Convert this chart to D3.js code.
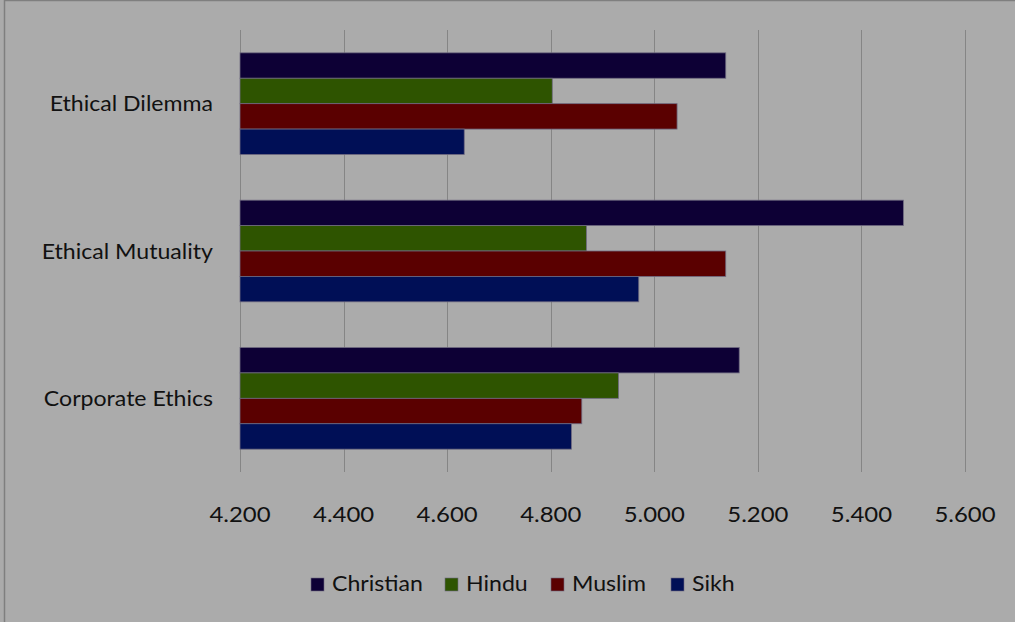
<!DOCTYPE html>
<html><head><meta charset="utf-8">
<script src="https://cdn.jsdelivr.net/npm/d3@7"></script>
<style>body{margin:0;background:#fff;} svg{display:block;}</style>
</head><body>
<svg id="c" width="1015" height="622"></svg>
<script>
const categories = ["Ethical Dilemma", "Ethical Mutuality", "Corporate Ethics"];
const seriesNames = ["Christian", "Hindu", "Muslim", "Sikh"];
const seriesColors = ["#0d0035", "#2e5400", "#5a0000", "#000f56"];
const christian = [5.138, 5.481, 5.164];
const hindu = [4.803, 4.869, 4.931];
const muslim = [5.044, 5.138, 4.860];
const sikh = [4.633, 4.970, 4.840];
const tickValues = [4.2, 4.4, 4.6, 4.8, 5.0, 5.2, 5.4, 5.6];
const values = [christian, hindu, muslim, sikh];

const svg = d3.select("#c");
svg.append("rect").attr("x",0).attr("y",0).attr("width",1015).attr("height",622).attr("fill","#ababab");
svg.append("path").attr("d","M4.5,622V0.5H1015").attr("fill","none").attr("stroke","#7f7f7f").attr("stroke-width",1.5);

const x = d3.scaleLinear().domain([4.2, 5.6]).range([240, 965]);
const y = d3.scaleBand().domain(categories).range([30, 472]).paddingInner(0.31).paddingOuter(0.155);
const ys = d3.scaleBand().domain(seriesNames).range([0, y.bandwidth()]);

// gridlines
svg.append("g").selectAll("line").data(tickValues).join("line")
  .attr("x1", d=>Math.round(x(d))+0.5).attr("x2", d=>Math.round(x(d))+0.5)
  .attr("y1", 30).attr("y2", 472).attr("stroke","#858585").attr("stroke-width",1);

const FONT = "Lato, sans-serif";
// tick labels
const fmt = d3.format(".3f");
svg.append("g").selectAll("text").data(tickValues).join("text")
  .attr("transform", d=>`translate(${x(d)},522) scale(1.14,1)`)
  .attr("text-anchor","middle")
  .attr("font-family",FONT).attr("font-size",21).attr("fill","#111")
  .text(d=>fmt(d));

// category labels
svg.append("g").selectAll("text").data(categories).join("text")
  .attr("transform", d=>`translate(213,${y(d)+y.bandwidth()/2+7.5}) scale(1.1,1)`)
  .attr("text-anchor","end")
  .attr("font-family",FONT).attr("font-size",21).attr("fill","#111")
  .text(d=>d);

// bars
const g = svg.append("g");
seriesNames.forEach((s, si) => {
  g.selectAll(null).data(categories).join("rect")
    .attr("x", x(4.2)).attr("y", c=>y(c)+ys(s))
    .attr("width", (c,i)=>x(values[si][i]) - x(4.2))
    .attr("height", ys.bandwidth())
    .attr("fill", seriesColors[si])
    .attr("stroke", "#6f6a80").attr("stroke-width", 0.8);
});

// legend
const legX = [311, 445, 551, 671];
const lg = svg.append("g");
seriesNames.forEach((s, i) => {
  lg.append("rect").attr("x", legX[i]).attr("y", 578).attr("width", 13).attr("height", 13)
    .attr("fill", seriesColors[i]).attr("stroke","#6f6a80").attr("stroke-width",0.6);
  lg.append("text").attr("transform", `translate(${legX[i]+21},591) scale(1.1,1)`)
    .attr("font-family",FONT).attr("font-size",21).attr("fill","#111").text(s);
});
</script>
</body></html>
